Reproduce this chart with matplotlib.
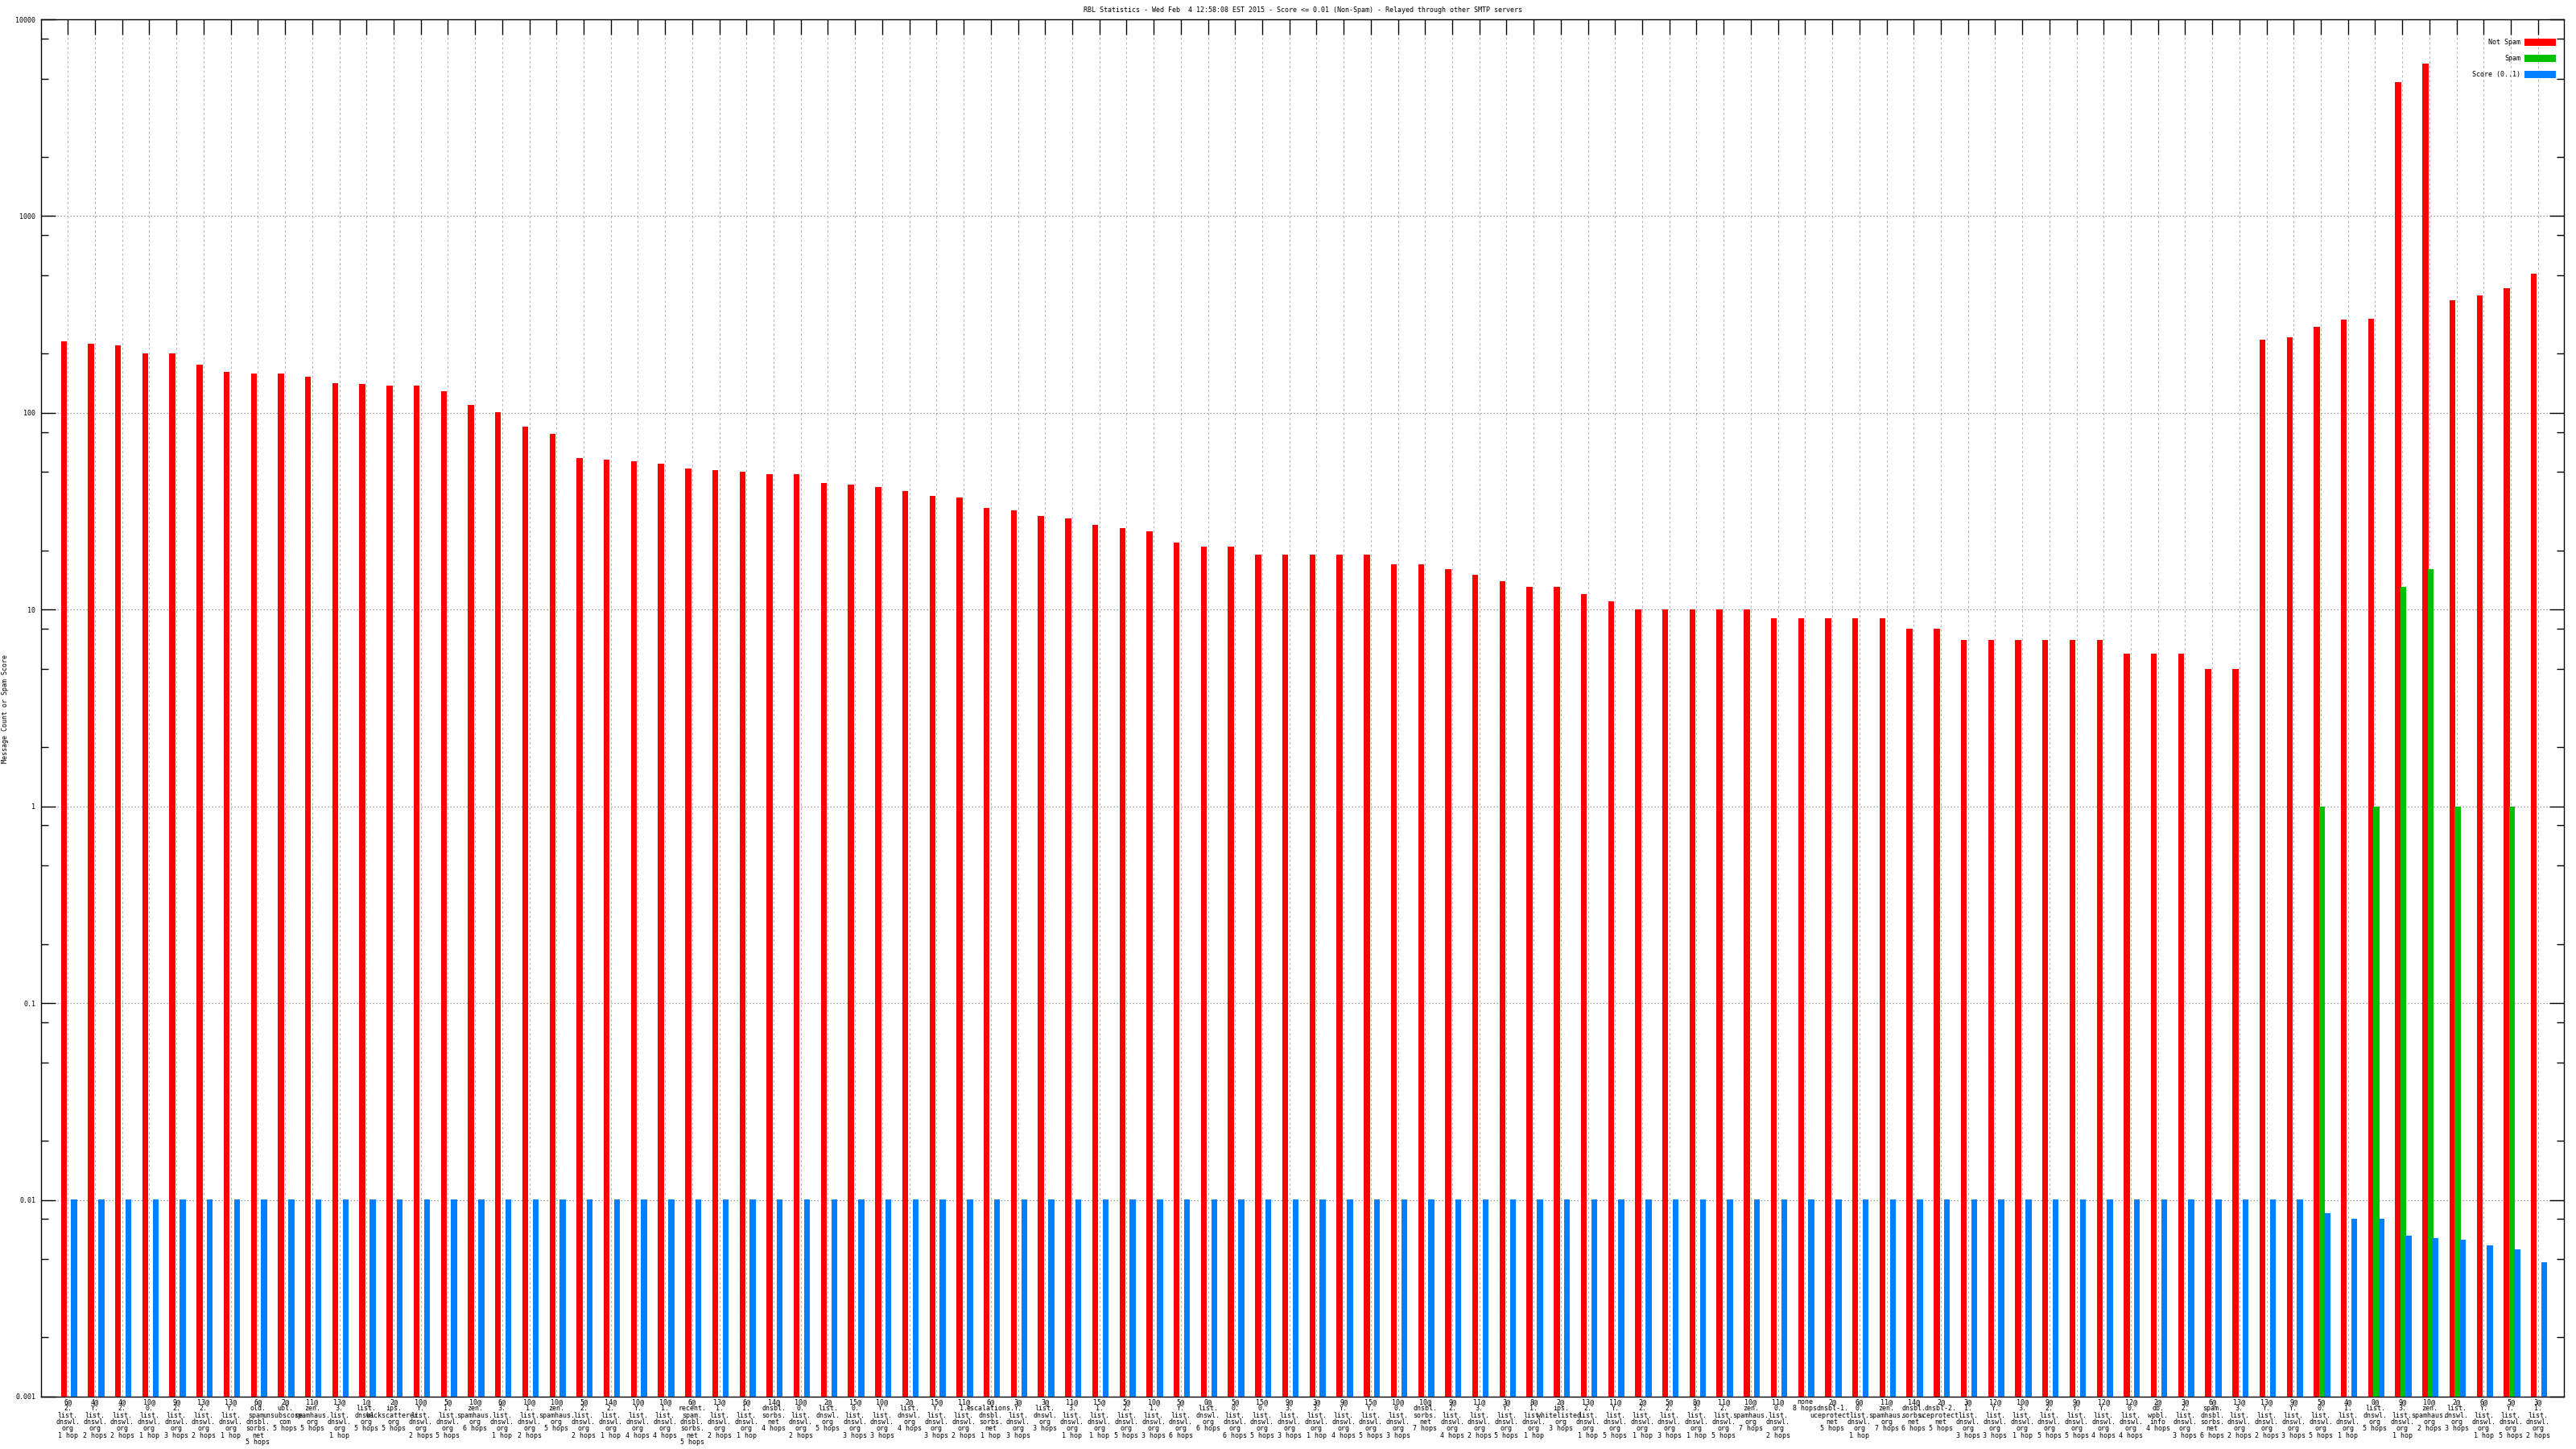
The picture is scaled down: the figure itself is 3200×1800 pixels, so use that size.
import matplotlib
matplotlib.use('Agg')
import matplotlib.pyplot as plt
import numpy as np
from matplotlib.ticker import LogLocator, FixedLocator, NullFormatter, FixedFormatter

labels = [
    "6@\n2.\nlist.\ndnswl.\norg\n1 hop",
    "4@\nY.\nlist.\ndnswl.\norg\n2 hops",
    "4@\n2.\nlist.\ndnswl.\norg\n2 hops",
    "10@\n0.\nlist.\ndnswl.\norg\n1 hop",
    "9@\n2.\nlist.\ndnswl.\norg\n3 hops",
    "13@\n2.\nlist.\ndnswl.\norg\n2 hops",
    "13@\nY.\nlist.\ndnswl.\norg\n1 hop",
    "6@\nold.\nspam.\ndnsbl.\nsorbs.\nnet\n5 hops",
    "2@\nubl.\nunsubscore.\ncom\n5 hops",
    "11@\nzen.\nspamhaus.\norg\n5 hops",
    "13@\n3.\nlist.\ndnswl.\norg\n1 hop",
    "1@\nlist.\ndnswl.\norg\n5 hops",
    "2@\nips.\nbackscatterer.\norg\n5 hops",
    "10@\nY.\nlist.\ndnswl.\norg\n2 hops",
    "5@\n1.\nlist.\ndnswl.\norg\n5 hops",
    "10@\nzen.\nspamhaus.\norg\n6 hops",
    "6@\n3.\nlist.\ndnswl.\norg\n1 hop",
    "10@\n1.\nlist.\ndnswl.\norg\n2 hops",
    "10@\nzen.\nspamhaus.\norg\n5 hops",
    "5@\n2.\nlist.\ndnswl.\norg\n2 hops",
    "14@\n2.\nlist.\ndnswl.\norg\n1 hop",
    "10@\nY.\nlist.\ndnswl.\norg\n4 hops",
    "10@\n1.\nlist.\ndnswl.\norg\n4 hops",
    "6@\nrecent.\nspam.\ndnsbl.\nsorbs.\nnet\n5 hops",
    "13@\n1.\nlist.\ndnswl.\norg\n2 hops",
    "6@\n1.\nlist.\ndnswl.\norg\n1 hop",
    "14@\ndnsbl.\nsorbs.\nnet\n4 hops",
    "10@\n0.\nlist.\ndnswl.\norg\n2 hops",
    "2@\nlist.\ndnswl.\norg\n5 hops",
    "15@\n0.\nlist.\ndnswl.\norg\n3 hops",
    "10@\nY.\nlist.\ndnswl.\norg\n3 hops",
    "2@\nlist.\ndnswl.\norg\n4 hops",
    "15@\nY.\nlist.\ndnswl.\norg\n3 hops",
    "11@\n1.\nlist.\ndnswl.\norg\n2 hops",
    "6@\nescalations.\ndnsbl.\nsorbs.\nnet\n1 hop",
    "3@\nY.\nlist.\ndnswl.\norg\n3 hops",
    "3@\nlist.\ndnswl.\norg\n3 hops",
    "11@\n3.\nlist.\ndnswl.\norg\n1 hop",
    "15@\n1.\nlist.\ndnswl.\norg\n1 hop",
    "5@\n2.\nlist.\ndnswl.\norg\n5 hops",
    "10@\n1.\nlist.\ndnswl.\norg\n3 hops",
    "5@\nY.\nlist.\ndnswl.\norg\n6 hops",
    "0@\nlist.\ndnswl.\norg\n6 hops",
    "5@\n0.\nlist.\ndnswl.\norg\n6 hops",
    "15@\n0.\nlist.\ndnswl.\norg\n5 hops",
    "9@\n3.\nlist.\ndnswl.\norg\n3 hops",
    "3@\n3.\nlist.\ndnswl.\norg\n1 hop",
    "9@\nY.\nlist.\ndnswl.\norg\n4 hops",
    "15@\nY.\nlist.\ndnswl.\norg\n5 hops",
    "10@\n0.\nlist.\ndnswl.\norg\n3 hops",
    "10@\ndnsbl.\nsorbs.\nnet\n7 hops",
    "9@\n2.\nlist.\ndnswl.\norg\n4 hops",
    "11@\n3.\nlist.\ndnswl.\norg\n2 hops",
    "3@\nY.\nlist.\ndnswl.\norg\n5 hops",
    "8@\n1.\nlist.\ndnswl.\norg\n1 hop",
    "2@\nips.\nwhitelisted.\norg\n3 hops",
    "13@\n2.\nlist.\ndnswl.\norg\n1 hop",
    "11@\nY.\nlist.\ndnswl.\norg\n5 hops",
    "2@\n2.\nlist.\ndnswl.\norg\n1 hop",
    "5@\n2.\nlist.\ndnswl.\norg\n3 hops",
    "8@\n3.\nlist.\ndnswl.\norg\n1 hop",
    "11@\n2.\nlist.\ndnswl.\norg\n5 hops",
    "10@\nzen.\nspamhaus.\norg\n7 hops",
    "11@\n0.\nlist.\ndnswl.\norg\n2 hops",
    "none\n8 hops",
    "2@\ndnsbl-1.\nuceprotect.\nnet\n5 hops",
    "6@\n0.\nlist.\ndnswl.\norg\n1 hop",
    "11@\nzen.\nspamhaus.\norg\n7 hops",
    "14@\ndnsbl.\nsorbs.\nnet\n6 hops",
    "2@\ndnsbl-2.\nuceprotect.\nnet\n5 hops",
    "3@\n1.\nlist.\ndnswl.\norg\n3 hops",
    "12@\nY.\nlist.\ndnswl.\norg\n3 hops",
    "10@\n3.\nlist.\ndnswl.\norg\n1 hop",
    "9@\n2.\nlist.\ndnswl.\norg\n5 hops",
    "9@\nY.\nlist.\ndnswl.\norg\n5 hops",
    "12@\nY.\nlist.\ndnswl.\norg\n4 hops",
    "12@\n0.\nlist.\ndnswl.\norg\n4 hops",
    "2@\ndb.\nwpbl.\ninfo\n4 hops",
    "3@\n2.\nlist.\ndnswl.\norg\n3 hops",
    "6@\nspam.\ndnsbl.\nsorbs.\nnet\n6 hops",
    "13@\n3.\nlist.\ndnswl.\norg\n2 hops",
    "13@\nY.\nlist.\ndnswl.\norg\n2 hops",
    "9@\nY.\nlist.\ndnswl.\norg\n3 hops",
    "5@\n0.\nlist.\ndnswl.\norg\n5 hops",
    "4@\n1.\nlist.\ndnswl.\norg\n1 hop",
    "0@\nlist.\ndnswl.\norg\n5 hops",
    "9@\n3.\nlist.\ndnswl.\norg\n1 hop",
    "10@\nzen.\nspamhaus.\norg\n2 hops",
    "2@\nlist.\ndnswl.\norg\n3 hops",
    "6@\nY.\nlist.\ndnswl.\norg\n1 hop",
    "5@\nY.\nlist.\ndnswl.\norg\n5 hops",
    "3@\n1.\nlist.\ndnswl.\norg\n2 hops",
]

not_spam = [
    230, 224, 220, 201, 200, 175, 162, 159, 159, 152,
    142, 140, 138, 138, 129, 110, 101, 85, 78, 59,
    58, 57, 55, 52, 51, 50, 49, 49, 44, 43,
    42, 40, 38, 37, 33, 32, 30, 29, 27, 26,
    25, 22, 21, 21, 19, 19, 19, 19, 19, 17,
    17, 16, 15, 14, 13, 13, 12, 11, 10, 10,
    10, 10, 10, 9, 9, 9, 9, 9, 8, 8,
    7, 7, 7, 7, 7, 7, 6, 6, 6, 5,
    5, 235, 242, 274, 297, 300, 4780, 5930, 375, 395,
    431, 510,
]

spam = [0] * 83 + [1, 0, 1, 13, 16, 1, 0, 1, 0]

score = [0.01] * 83 + [0.0085, 0.0079, 0.0079, 0.0065, 0.0063, 0.0062, 0.0058, 0.0055, 0.0047]

series_names = ["Not Spam", "Spam", "Score (0..1)"]
series_colors = ["#ff0000", "#00c000", "#0080ff"]

ytick_vals = [0.001, 0.01, 0.1, 1, 10, 100, 1000, 10000]
ytick_labels = ["0.001", "0.01", "0.1", "1", "10", "100", "1000", "10000"]

title = "RBL Statistics - Wed Feb  4 12:58:08 EST 2015 - Score <= 0.01 (Non-Spam) - Relayed through other SMTP servers"
ylabel = "Message Count or Spam Score"

MONO = "DejaVu Sans Mono"
TINY = 6.0
W, H = 3200, 1800

fig = plt.figure(figsize=(W / 100, H / 100), dpi=100)
fig.patch.set_facecolor("white")
ax = fig.add_axes([50.7 / W, 1 - 1735 / H, (3185 - 50.7) / W, (1735 - 24) / H])

x = np.arange(len(labels))
ns = np.array(not_spam, dtype=float)
sp = np.array(spam, dtype=float)
sc = np.array(score, dtype=float)
bw = 0.22
ax.bar(x - 0.15, ns, width=bw, bottom=1e-4, color=series_colors[0], label=series_names[0], zorder=3, linewidth=0)
m = sp > 0
ax.bar(x[m] + 0.04, sp[m], width=bw, bottom=1e-4, color=series_colors[1], label=series_names[1], zorder=3, linewidth=0)
ax.bar(x + 0.23, sc, width=bw, bottom=1e-4, color=series_colors[2], label=series_names[2], zorder=3, linewidth=0)

ax.set_yscale("log")
ax.set_ylim(1e-3, 1e4)
ax.set_xlim(-0.997, len(labels) - 1 + 0.955)

ax.yaxis.set_major_locator(FixedLocator(ytick_vals))
ax.yaxis.set_major_formatter(FixedFormatter(ytick_labels))
ax.yaxis.set_minor_locator(LogLocator(base=10, subs=(2, 5, 8), numticks=30))
ax.yaxis.set_minor_formatter(NullFormatter())

ax.set_xticks(x)
ax.set_xticklabels(labels, fontsize=TINY, family=MONO, linespacing=0.9, va="top")

ax.tick_params(axis="x", which="major", direction="in", top=True, bottom=False,
               length=13.7, width=1.0, pad=1.5, labelbottom=True, color="black")
ax.tick_params(axis="x", which="minor", bottom=False, top=False)
ax.tick_params(axis="y", which="major", direction="in", left=True, right=True,
               length=13, width=1.0, pad=4.8, labelsize=TINY)
ax.tick_params(axis="y", which="minor", direction="in", left=True, right=True,
               length=6.5, width=1.0)
for lab in ax.get_yticklabels():
    lab.set_family(MONO)

for s in ax.spines.values():
    s.set_linewidth(1.0)
    s.set_color("black")

ax.set_axisbelow(True)
ax.yaxis.grid(True, which="major", linestyle=(0, (1.2, 2.0)), color="#999999", linewidth=0.9)
ax.xaxis.grid(True, which="major", linestyle=(0, (3, 3)), color="#b4b4b4", linewidth=0.7)

fpx = TINY * 100 / 72
ax.legend(loc="upper right", bbox_to_anchor=(3175 / W, 1 - 47.7 / H), bbox_transform=fig.transFigure,
          frameon=False, markerfirst=False, handlelength=39 / fpx, handleheight=11 / fpx,
          labelspacing=(21.7 - 11) / fpx, handletextpad=5 / fpx, borderpad=0, borderaxespad=0,
          prop=dict(family=MONO, size=TINY))

fig.text(1618 / W, 1 - 12.7 / H, title, ha="center", va="center", fontsize=TINY, family=MONO)
fig.text(7 / W, 1 - 880 / H, ylabel, ha="center", va="center", rotation=90, fontsize=TINY, family=MONO)

fig.savefig("out.png", dpi=100, facecolor="white")
